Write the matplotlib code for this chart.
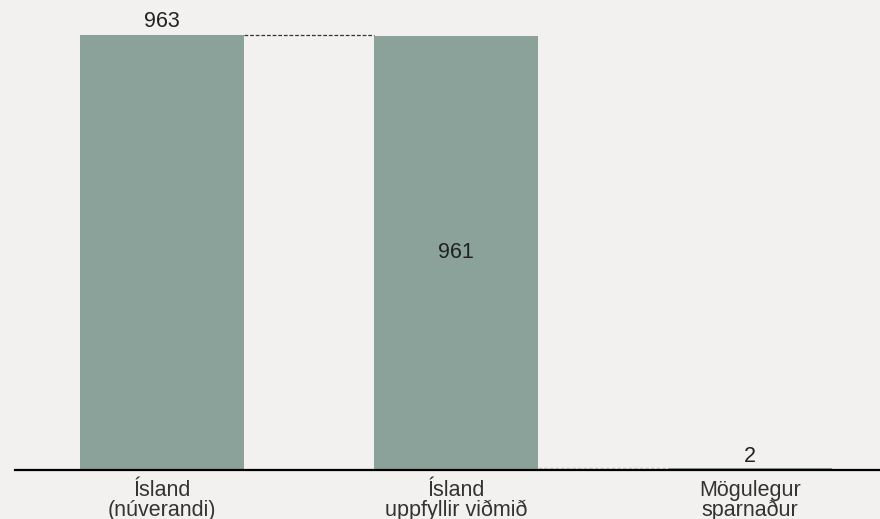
import matplotlib.pyplot as plt

plt.rcParams['font.family'] = ['Liberation Sans', 'DejaVu Sans']

# gögn
flokkar = ['Ísland\n(núverandi)', 'Ísland\nuppfyllir viðmið', 'Mögulegur\nsparnaður']
gildi = [963, 961, 2]
bar_litur = '#8aa299'
bak_litur = '#f3f1ef'

fig = plt.figure(figsize=(8.8, 5.19), dpi=100, facecolor=bak_litur)
ax = fig.add_axes([15 / 880, 50 / 519, 865 / 880, 469 / 519])
ax.set_facecolor(bak_litur)

x = list(range(len(gildi)))
breidd = 0.558
ax.bar(x, gildi, width=breidd, color=bar_litur, zorder=2)

# tengilínur
ax.plot([0 + breidd / 2, 1 - breidd / 2], [gildi[0], gildi[0]],
        color='#333333', linestyle='--', linewidth=0.9, dashes=(3, 1.5), zorder=3)
ax.plot([1 + breidd / 2, 2 - breidd / 2], [gildi[2], gildi[2]],
        color='#b0b0b0', linestyle='--', linewidth=0.9, dashes=(3, 1.5), zorder=3)

# merkingar
ax.annotate(str(gildi[0]), (0, gildi[0]), xytext=(0, 6), textcoords='offset points',
            ha='center', va='baseline', fontsize=15.5, color='#222222')
ax.text(1, gildi[1] / 2, str(gildi[1]), ha='center', va='center', fontsize=15.5, color='#222222')
ax.annotate(str(gildi[2]), (2, gildi[2]), xytext=(0, 4.5), textcoords='offset points',
            ha='center', va='baseline', fontsize=15.5, color='#222222')

ax.set_xlim(-0.5, 2.442)
ax.set_ylim(0, 963 * 469 / 434)
ax.set_xticks([])
ax.set_yticks([])

# flokkaheiti undir ásnum
for xi, nafn in zip(x, flokkar):
    ax.annotate(nafn, (xi, 0), xytext=(0, -8), textcoords='offset points',
                ha='center', va='top', fontsize=15.5, color='#333333',
                linespacing=0.92, annotation_clip=False)

for s in ['top', 'right', 'left']:
    ax.spines[s].set_visible(False)
ax.spines['bottom'].set_color('black')
ax.spines['bottom'].set_linewidth(1.6)
ax.spines['bottom'].set_position(('outward', 1))

plt.savefig('out.png', dpi=100, facecolor=bak_litur)
